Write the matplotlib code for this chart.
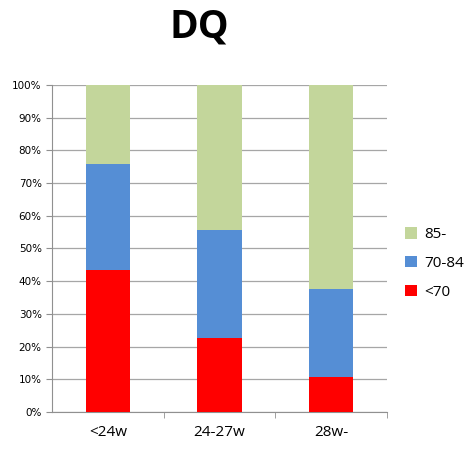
import matplotlib.pyplot as plt
import numpy as np
from matplotlib.ticker import PercentFormatter

categories = ['<24w', '24-27w', '28w-']
low = [43.5, 22.5, 10.7]      # <70
mid = [32.3, 33.3, 27.0]      # 70-84
high = [24.2, 44.2, 62.3]     # 85-

fig = plt.figure(figsize=(4.74, 4.54), dpi=100)
ax = fig.add_axes([0.110, 0.0925, 0.706, 0.7203])

x = np.arange(len(categories))
w = 0.4
ax.bar(x, low, w, color='#ff0000', label='<70', zorder=3)
ax.bar(x, mid, w, bottom=low, color='#558ed5', label='70-84', zorder=3)
ax.bar(x, high, w, bottom=np.add(low, mid), color='#c3d69b', label='85-', zorder=3)

ax.set_xlim(-0.5, 2.5)
ax.set_ylim(0, 100)
ax.set_yticks(np.arange(0, 101, 10))
ax.yaxis.set_major_formatter(PercentFormatter(decimals=0))
ax.grid(axis='y', color='#a6a6a6', linewidth=0.9, zorder=0)
ax.set_xticks(x)
ax.set_xticklabels(categories, fontsize=11, family='Open Sans')
ax.set_xticks([0.5, 1.5, 2.5], minor=True)
ax.tick_params(axis='x', which='major', length=0, pad=9)
ax.tick_params(axis='x', which='minor', length=4, color='#909090')
ax.tick_params(axis='y', labelsize=7.5, length=4, color='#909090')
for lab in ax.get_yticklabels():
    lab.set_family('DejaVu Sans')
for s in ['top', 'right']:
    ax.spines[s].set_visible(False)
for s in ['left', 'bottom']:
    ax.spines[s].set_color('#909090')

handles, labels = ax.get_legend_handles_labels()
fig.legend(handles[::-1], labels[::-1], loc='center left', bbox_to_anchor=(0.825, 0.42),
           frameon=False, prop={'family': 'Open Sans', 'size': 11},
           handlelength=0.8, handleheight=0.8, handletextpad=0.5, labelspacing=0.9)

fig.text(0.42, 0.94, 'DQ', ha='center', va='center', fontsize=28, fontweight='bold', family='Open Sans')

fig.savefig('out.png', dpi=100)
